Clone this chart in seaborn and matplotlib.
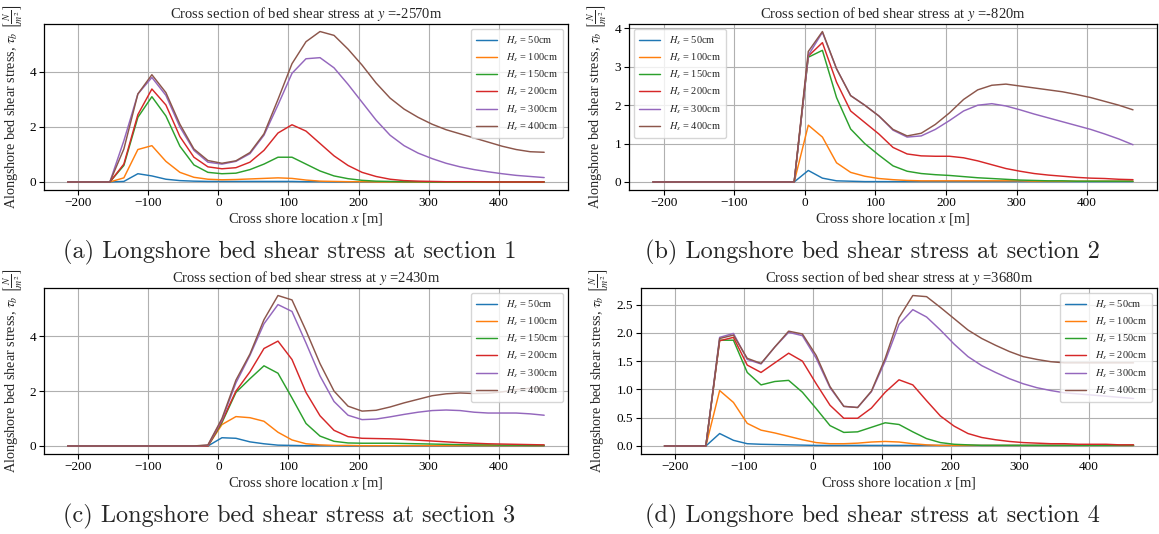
import numpy as np
import pandas as pd
import matplotlib
matplotlib.use("Agg")
import matplotlib.pyplot as plt
from matplotlib.ticker import MultipleLocator, FormatStrFormatter
import seaborn as sns

# ---------------- data ----------------
X = [-215, -195, -175, -155, -135, -115, -95, -75, -55, -35, -15, 5, 25, 45, 65, 85, 105,
     125, 145, 165, 185, 205, 225, 245, 265, 285, 305, 325, 345, 365, 385, 405, 425, 445, 465]
HS_LABELS = ["$H_s$ = 50cm", "$H_s$ = 100cm", "$H_s$ = 150cm",
             "$H_s$ = 200cm", "$H_s$ = 300cm", "$H_s$ = 400cm"]
TITLES = ["Cross section of bed shear stress at $y$ =-2570m",
          "Cross section of bed shear stress at $y$ =-820m",
          "Cross section of bed shear stress at $y$ =2430m",
          "Cross section of bed shear stress at $y$ =3680m"]
CAPTIONS = ["(a) Longshore bed shear stress at section 1",
            "(b) Longshore bed shear stress at section 2",
            "(c) Longshore bed shear stress at section 3",
            "(d) Longshore bed shear stress at section 4"]

# section 1
a50 = [0, 0, 0, 0, 0.02, 0.3, 0.22, 0.1, 0.05, 0.03, 0.02, 0.02, 0.02, 0.02, 0.02, 0.02, 0.02, 0.01, 0.01,
       0, 0, 0, 0, 0, 0, 0, 0, 0, 0, 0, 0, 0, 0, 0, 0]
a100 = [0, 0, 0, 0, 0.15, 1.18, 1.32, 0.75, 0.35, 0.17, 0.1, 0.08, 0.09, 0.11, 0.13, 0.15, 0.13, 0.07, 0.03,
        0.02, 0.01, 0.01, 0, 0, 0, 0, 0, 0, 0, 0, 0, 0, 0, 0, 0]
a150 = [0, 0, 0, 0, 0.6, 2.35, 3.1, 2.4, 1.3, 0.62, 0.35, 0.3, 0.32, 0.45, 0.65, 0.9, 0.9, 0.65, 0.4,
        0.22, 0.12, 0.06, 0.03, 0.02, 0.01, 0.01, 0, 0, 0, 0, 0, 0, 0, 0, 0]
a200 = [0, 0, 0, 0, 0.65, 2.45, 3.38, 2.8, 1.65, 0.9, 0.55, 0.48, 0.52, 0.72, 1.15, 1.78, 2.08, 1.85, 1.4,
        0.95, 0.6, 0.35, 0.2, 0.1, 0.05, 0.03, 0.02, 0.01, 0.01, 0.01, 0, 0, 0, 0, 0]
a300 = [0, 0, 0, 0, 1.5, 3.2, 3.8, 3.15, 2.0, 1.15, 0.72, 0.65, 0.75, 1.03, 1.7, 2.8, 3.95, 4.48, 4.52,
        4.15, 3.55, 2.9, 2.25, 1.7, 1.32, 1.05, 0.85, 0.68, 0.55, 0.45, 0.37, 0.3, 0.24, 0.2, 0.16]
a400 = [0, 0, 0, 0, 1.2, 3.2, 3.9, 3.25, 2.1, 1.2, 0.78, 0.68, 0.77, 1.07, 1.75, 3.0, 4.3, 5.1, 5.47,
        5.33, 4.83, 4.25, 3.6, 3.05, 2.65, 2.35, 2.1, 1.9, 1.75, 1.6, 1.45, 1.3, 1.18, 1.1, 1.08]

# section 2
Z11 = [0] * 11
b50 = Z11 + [0.3, 0.1, 0.03, 0.02, 0.01, 0.01, 0.01, 0.01, 0.01, 0.01, 0.01, 0.01, 0.01, 0.01, 0.01, 0.01,
             0.01, 0.01, 0.01, 0.01, 0.01, 0.01, 0.01, 0.01]
b100 = Z11 + [1.48, 1.17, 0.5, 0.25, 0.15, 0.09, 0.06, 0.04, 0.03, 0.03, 0.03, 0.03, 0.03, 0.03, 0.03,
              0.03, 0.02, 0.02, 0.02, 0.02, 0.02, 0.02, 0.02, 0.02]
b150 = Z11 + [3.25, 3.43, 2.2, 1.38, 1.0, 0.7, 0.42, 0.28, 0.22, 0.19, 0.17, 0.14, 0.11, 0.09, 0.07,
              0.05, 0.04, 0.03, 0.03, 0.02, 0.02, 0.02, 0.02, 0.02]
b200 = Z11 + [3.28, 3.63, 2.6, 1.85, 1.55, 1.25, 0.9, 0.73, 0.68, 0.67, 0.67, 0.63, 0.55, 0.45, 0.35,
              0.28, 0.22, 0.18, 0.15, 0.12, 0.1, 0.09, 0.07, 0.06]
b300 = Z11 + [3.3, 3.9, 2.95, 2.25, 2.0, 1.72, 1.35, 1.17, 1.2, 1.37, 1.6, 1.85, 2.0, 2.04, 1.98,
              1.88, 1.77, 1.67, 1.57, 1.47, 1.37, 1.25, 1.12, 0.97]
b400 = Z11 + [3.4, 3.92, 2.95, 2.25, 2.0, 1.72, 1.37, 1.2, 1.27, 1.5, 1.8, 2.15, 2.4, 2.52, 2.55,
              2.5, 2.45, 2.4, 2.35, 2.28, 2.2, 2.1, 2.0, 1.88]

# section 3
Z10 = [0] * 10
c50 = Z10 + [0, 0.3, 0.28, 0.15, 0.08, 0.03, 0.02, 0.01, 0.01, 0.01, 0, 0, 0, 0, 0, 0, 0, 0, 0, 0, 0,
             0, 0, 0, 0]
c100 = Z10 + [0, 0.78, 1.07, 1.03, 0.9, 0.5, 0.22, 0.08, 0.04, 0.02, 0.02, 0.01, 0.01, 0.01, 0.01, 0.01,
              0.01, 0.01, 0.01, 0.01, 0.01, 0.01, 0.01, 0.01, 0.01]
c150 = Z10 + [0, 0.85, 1.95, 2.45, 2.92, 2.65, 1.75, 0.82, 0.36, 0.17, 0.11, 0.1, 0.1, 0.1, 0.09, 0.08,
              0.07, 0.06, 0.05, 0.04, 0.04, 0.03, 0.03, 0.02, 0.02]
c200 = Z10 + [0, 0.9, 2.0, 2.7, 3.55, 3.82, 3.15, 1.95, 1.1, 0.57, 0.34, 0.28, 0.27, 0.26, 0.24, 0.21,
              0.18, 0.15, 0.12, 0.1, 0.08, 0.07, 0.06, 0.05, 0.04]
c300 = Z10 + [0.02, 0.95, 2.3, 3.3, 4.45, 5.15, 4.9, 3.75, 2.55, 1.62, 1.12, 0.96, 0.98, 1.06, 1.15, 1.23,
              1.29, 1.31, 1.29, 1.23, 1.2, 1.2, 1.2, 1.17, 1.12]
c400 = Z10 + [0.04, 1.0, 2.4, 3.35, 4.6, 5.48, 5.32, 4.2, 3.0, 2.0, 1.45, 1.27, 1.3, 1.42, 1.57, 1.7,
              1.83, 1.9, 1.93, 1.91, 1.92, 1.97, 2.05, 2.1, 2.1]

# section 4
Z4 = [0] * 4
d50 = Z4 + [0.22, 0.1, 0.04, 0.03, 0.025, 0.02, 0.015, 0.01, 0.01, 0.01, 0.01, 0.01, 0.01, 0.01, 0.01,
            0.01, 0.01, 0.01, 0.01, 0.01, 0.01, 0.01, 0.01, 0.01, 0.01, 0.01, 0.01, 0.01, 0.01, 0.01, 0.01]
d100 = Z4 + [0.98, 0.77, 0.4, 0.28, 0.23, 0.17, 0.11, 0.06, 0.04, 0.04, 0.05, 0.07, 0.08, 0.07, 0.04,
             0.02, 0.01, 0.01, 0.01, 0.01, 0.01, 0.01, 0.01, 0.01, 0.01, 0.01, 0.01, 0.01, 0.01, 0.01, 0.01]
d150 = Z4 + [1.87, 1.87, 1.3, 1.08, 1.14, 1.16, 0.95, 0.66, 0.36, 0.24, 0.25, 0.33, 0.41, 0.38, 0.25,
             0.13, 0.06, 0.03, 0.02, 0.01, 0.01, 0.01, 0.01, 0.01, 0.01, 0.01, 0.01, 0.01, 0.01, 0.01, 0.01]
d200 = Z4 + [1.86, 1.92, 1.43, 1.3, 1.47, 1.64, 1.5, 1.1, 0.72, 0.49, 0.49, 0.67, 0.95, 1.17, 1.08,
             0.8, 0.53, 0.35, 0.22, 0.15, 0.11, 0.08, 0.06, 0.05, 0.04, 0.04, 0.03, 0.03, 0.03, 0.02, 0.02]
d300 = Z4 + [1.92, 1.99, 1.53, 1.45, 1.75, 2.01, 1.95, 1.55, 1.03, 0.7, 0.68, 0.96, 1.5, 2.15, 2.41,
             2.28, 2.05, 1.8, 1.58, 1.42, 1.3, 1.19, 1.1, 1.03, 0.98, 0.94, 0.92, 0.9, 0.88, 0.86, 0.84]
d400 = Z4 + [1.9, 1.96, 1.55, 1.46, 1.75, 2.03, 1.98, 1.6, 1.05, 0.7, 0.68, 0.97, 1.55, 2.27, 2.66,
             2.64, 2.45, 2.25, 2.05, 1.9, 1.78, 1.67, 1.58, 1.53, 1.49, 1.47, 1.47, 1.47, 1.47, 1.47, 1.47]

SECTIONS = [[a50, a100, a150, a200, a300, a400],
            [b50, b100, b150, b200, b300, b400],
            [c50, c100, c150, c200, c300, c400],
            [d50, d100, d150, d200, d300, d400]]

# ---------------- style ----------------
sns.set_theme(style="ticks", rc={"axes.grid": True})
plt.rcParams.update({
    "font.family": ["Liberation Serif", "DejaVu Serif"],
    "mathtext.fontset": "stix",
    "axes.edgecolor": "black",
    "axes.linewidth": 0.9,
    "grid.color": "#b0b0b0",
    "grid.linewidth": 0.8,
    "xtick.color": "black",
    "ytick.color": "black",
    "xtick.major.size": 3.5,
    "ytick.major.size": 3.5,
    "xtick.major.width": 0.8,
    "ytick.major.width": 0.8,
    "xtick.labelsize": 9.5,
    "ytick.labelsize": 9.5,
    "axes.unicode_minus": True,
})
palette = sns.color_palette("tab10", 6)

fig = plt.figure(figsize=(11.59, 5.34), dpi=100)
W, H = 1159.0, 534.0
# (left, right, top, bottom) in pixels
boxes = [(44, 568, 24, 189.5),
         (629, 1157, 24, 189.5),
         (44, 568, 288, 453.5),
         (641, 1157, 288, 453.5)]
legend_locs = ["upper right", "upper left", "upper right", "upper right"]
cap_pos = [(289.5, 252), (872, 252), (289.5, 516), (872, 516)]

for i, series in enumerate(SECTIONS):
    l, r, t, b = boxes[i]
    ax = fig.add_axes([l / W, 1 - b / H, (r - l) / W, (b - t) / H])
    frames = []
    for lab, vals in zip(HS_LABELS, series):
        assert len(vals) == len(X)
        frames.append(pd.DataFrame({"x": X, "tau": vals, "Hs": lab}))
    df = pd.concat(frames, ignore_index=True)
    sns.lineplot(data=df, x="x", y="tau", hue="Hs", hue_order=HS_LABELS,
                 palette=palette, linewidth=1.05, ax=ax, sort=False)
    ax.set_xlim(-249, 499)
    ax.set_xticks([-200, -100, 0, 100, 200, 300, 400])
    if i == 3:
        ax.yaxis.set_major_locator(MultipleLocator(0.5))
        ax.yaxis.set_major_formatter(FormatStrFormatter("%.1f"))
    ax.set_title(TITLES[i], fontsize=10.5, pad=4)
    ax.set_xlabel("Cross shore location $x$ [m]", fontsize=10.5, labelpad=1.5)
    ax.set_ylabel(r"Alongshore bed shear stress, $\tau_b$ $\left[\frac{N}{m^2}\right]$",
                  fontsize=10.2, labelpad=3)
    ax.grid(True)
    ax.set_axisbelow(True)
    ax.tick_params(axis="both", pad=2)
    ax.legend(loc=legend_locs[i], fontsize=7.5, frameon=True, framealpha=0.8,
              edgecolor="#cccccc", fancybox=True, borderpad=0.5, labelspacing=0.45,
              handlelength=2.0)
    fig.text(cap_pos[i][0] / W, 1 - cap_pos[i][1] / H, CAPTIONS[i], ha="center", va="center",
             fontsize=17.5, family="cmr10")

fig.savefig("out.png", dpi=100)
